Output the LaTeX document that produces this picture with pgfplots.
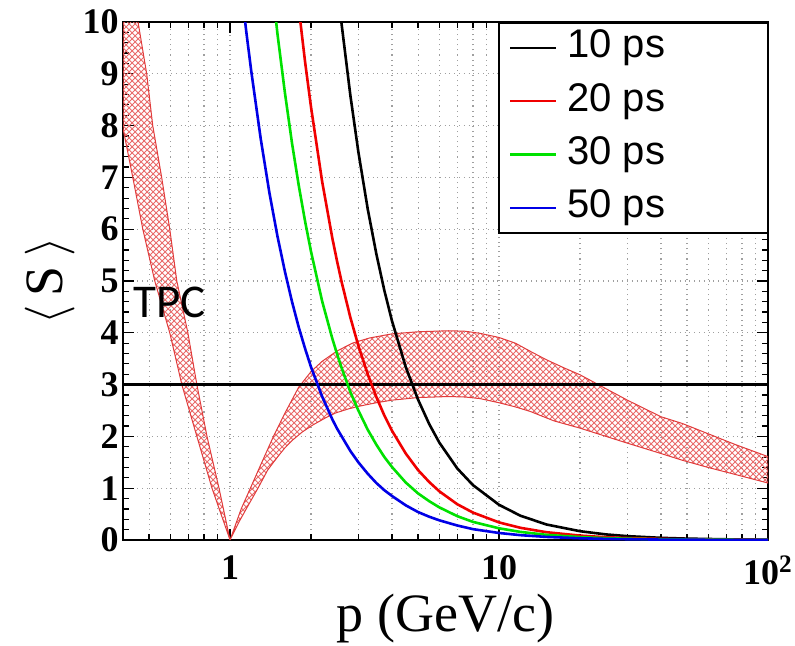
\documentclass[border=0pt]{standalone}
\usepackage{fontspec}
\setmainfont{Liberation Serif}
\newfontfamily\legfont{Liberation Sans}
\newfontfamily\tpcfont{Carlito}
\usepackage{pgfplots}
\pgfplotsset{compat=1.18}
\usetikzlibrary{patterns}
\definecolor{cgreen}{RGB}{0,225,0}
\definecolor{cblue}{RGB}{0,0,230}
\definecolor{cred}{RGB}{240,0,0}
\definecolor{band}{RGB}{225,60,60}
\definecolor{hatch}{RGB}{232,105,105}
\begin{document}
\begin{tikzpicture}
\useasboundingbox (-61.5pt,-52.5pt) rectangle (336pt,270pt);
\begin{axis}[
  at={(0pt,0pt)}, anchor=south west, scale only axis,
  width=322.5pt, height=259pt,
  xmode=log, xmin=0.4, xmax=100, ymin=0, ymax=10,
  xtick={1,10,100},
  xticklabels={\textbf{1},\textbf{10},\textbf{10}\textsuperscript{\textbf{2}}},
  minor xtick={0.4,0.5,0.6,0.7,0.8,0.9,2,3,4,5,6,7,8,9,20,30,40,50,60,70,80,90},
  ytick={0,1,...,10},
  minor y tick num=4,
  /pgf/number format/assume math mode=true,
  tick label style={font=\fontsize{18}{18}\selectfont\bfseries},
  yticklabel style={inner sep=2pt},
  xticklabel style={inner sep=2pt, yshift=-5.5pt},
  tick align=inside, tick pos=both,
  major tick length=5.5pt, minor tick length=3pt,
  every tick/.style={black, line width=0.6pt},
  axis line style={black, line width=0.75pt},
  xmajorgrids=true, xminorgrids=true, ymajorgrids=true,
  grid style={dotted, gray!75, line width=0.55pt},
  minor grid style={dotted, gray!75, line width=0.55pt},
  xlabel={p (GeV/c)},
  ylabel={$\langle$\,S\,$\rangle$},
  every axis x label/.style={at={(axis description cs:0.5,0)}, anchor=base, yshift=-45.5pt, font=\fontsize{27}{27}\selectfont},
  every axis y label/.style={at={(axis description cs:-0.113,0.5)}, rotate=90, anchor=center, font=\fontsize{27}{27}\selectfont},
  legend style={at={(1,1)}, anchor=north east, draw=black, line width=0.75pt,
    font=\legfont\fontsize{20}{20}\selectfont,
    inner xsep=5pt, inner ysep=3pt, row sep=7.7pt, column sep=5pt,
    nodes={inner sep=0pt, text height=14.5pt, text depth=4.5pt}},
  legend cell align=left,
  legend image code/.code={\draw[#1, line width=1.1pt] (0pt,0pt) -- (23pt,0pt);},
]
% TPC band, left branch
\addplot[draw=band, line width=0.5pt, pattern=crosshatch, pattern color=hatch, forget plot]
  coordinates {(0.4,7.95) (0.435,7.0) (0.474,6.0) (0.525,5.0) (0.597,4.0) (0.662,3.0) (0.753,2.0) (0.857,1.0) (1,0)
   (0.91,1.0) (0.821,2.0) (0.753,3.0) (0.697,4.0) (0.634,5.0) (0.597,6.0) (0.557,7.0) (0.516,8.0) (0.49,9.0) (0.455,10.0) (0.42,11.2) (0.4,11.2)} -- cycle;
% TPC band, right branch
\addplot[draw=band, line width=0.5pt, pattern=crosshatch, pattern color=hatch, forget plot]
  coordinates {(1,0) (1.08,0.35) (1.16,0.64) (1.27,1.0) (1.38,1.35) (1.5,1.6) (1.6,1.78) (1.7,1.92) (1.85,2.08) (2.03,2.22) (2.25,2.35) (2.46,2.45) (2.75,2.53) (3.0,2.58) (3.5,2.65) (4.0,2.7) (5,2.75) (6.5,2.77) (7.5,2.76) (8.5,2.73) (10,2.65) (11.5,2.57) (13.1,2.48) (16,2.3) (20,2.16) (25,2.0) (30,1.87) (40,1.67) (48,1.54) (60,1.40) (75,1.27) (100,1.10)
   (100,1.61) (75,1.85) (60,2.05) (48,2.25) (40,2.38) (30,2.70) (23.4,3.0) (20,3.19) (17.5,3.32) (15,3.48) (13.1,3.64) (11.5,3.8) (10,3.91) (8.5,3.99) (7.5,4.03) (6.5,4.04) (5,4.02) (4.0,3.98) (3.3,3.9) (2.85,3.8) (2.5,3.65) (2.2,3.45) (2.0,3.25) (1.8,2.95) (1.6,2.45) (1.45,2.0) (1.3,1.45) (1.19,1.0) (1.1,0.6)} -- cycle;
% 3 sigma line
\addplot[black, line width=1.3pt, forget plot] coordinates {(0.4,3) (100,3)};
% TOF curves
\addplot[black, line width=1.3pt] coordinates {(2.2,13.83) (2.4,11.66) (2.5,10.76) (2.6,9.95) (2.8,8.59) (3.0,7.49) (3.25,6.39) (3.5,5.52) (3.75,4.81) (4,4.23) (4.5,3.34) (5,2.71) (5.5,2.24) (6,1.88) (7,1.38) (8,1.06) (10,0.68) (12,0.47) (15,0.30) (20,0.17) (25,0.108) (30,0.075) (40,0.042) (50,0.027) (70,0.014) (100,0.0068)};
\addlegendentry{\makebox[95pt][l]{10 ps}}
\addplot[cred, line width=1.3pt] coordinates {(1.6,12.94) (1.7,11.49) (1.8,10.28) (1.9,9.24) (2.0,8.36) (2.2,6.92) (2.4,5.83) (2.5,5.38) (2.6,4.98) (2.8,4.30) (3.0,3.75) (3.25,3.20) (3.5,2.76) (3.75,2.40) (4,2.11) (4.5,1.67) (5,1.35) (5.5,1.12) (6,0.94) (7,0.69) (8,0.53) (10,0.34) (12,0.236) (15,0.151) (20,0.085) (25,0.054) (30,0.038) (40,0.021) (50,0.0136) (70,0.0069) (100,0.0034)};
\addlegendentry{\makebox[95pt][l]{20 ps}}
\addplot[cgreen, line width=1.3pt] coordinates {(1.3,12.91) (1.4,11.19) (1.5,9.78) (1.6,8.63) (1.7,7.66) (1.8,6.85) (1.9,6.16) (2.0,5.57) (2.2,4.61) (2.4,3.89) (2.5,3.59) (2.6,3.32) (2.8,2.86) (3.0,2.50) (3.25,2.13) (3.5,1.84) (3.75,1.60) (4,1.41) (4.5,1.11) (5,0.90) (5.5,0.75) (6,0.63) (7,0.46) (8,0.35) (10,0.226) (12,0.157) (15,0.10) (20,0.057) (25,0.036) (30,0.025) (40,0.014) (50,0.009) (70,0.0046) (100,0.0023)};
\addlegendentry{\makebox[95pt][l]{30 ps}}
\addplot[cblue, line width=1.3pt] coordinates {(1.0,12.79) (1.1,10.67) (1.15,9.80) (1.2,9.04) (1.3,7.75) (1.4,6.71) (1.5,5.87) (1.6,5.18) (1.7,4.60) (1.8,4.11) (1.9,3.70) (2.0,3.34) (2.2,2.77) (2.4,2.33) (2.5,2.15) (2.8,1.72) (3.0,1.50) (3.25,1.28) (3.5,1.10) (3.75,0.96) (4,0.85) (4.5,0.67) (5,0.54) (5.5,0.45) (6,0.38) (7,0.28) (8,0.21) (10,0.136) (12,0.094) (15,0.060) (20,0.034) (25,0.022) (30,0.015) (40,0.0085) (50,0.0054) (70,0.0028) (100,0.0014)};
\addlegendentry{\makebox[95pt][l]{50 ps}}
\node[anchor=base west, inner sep=0pt, font=\tpcfont\fontsize{23.5}{23.5}\selectfont] at (axis cs:0.435,4.29) {TPC};
\end{axis}
\end{tikzpicture}
\end{document}
